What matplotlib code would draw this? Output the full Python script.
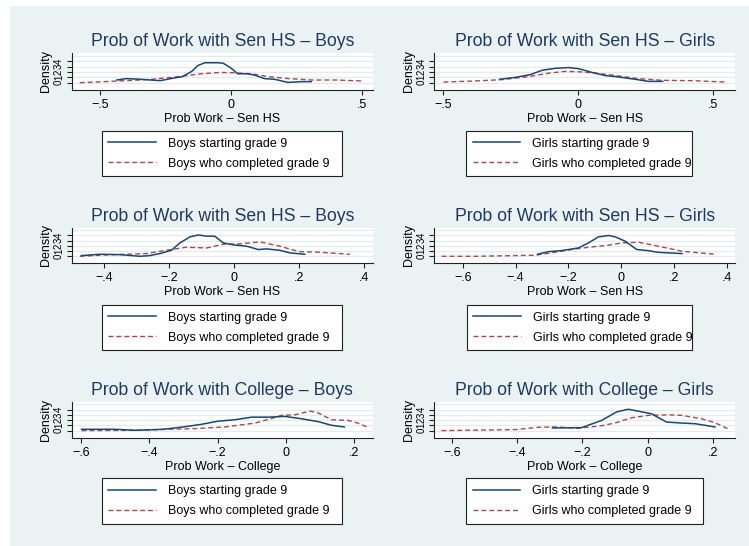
import matplotlib
matplotlib.use("Agg")
import matplotlib.pyplot as plt
from matplotlib.patches import Rectangle
from matplotlib.lines import Line2D

plt.rcParams['font.family'] = ['Liberation Sans', 'DejaVu Sans']

W, H = 749, 546

# ---- data (kernel density estimates) ----
# top row: Prob of Work with Sen HS
boys1_start_x = [-0.436, -0.40, -0.345, -0.27, -0.23, -0.185, -0.15, -0.127, -0.10, -0.05,
                 -0.03, 0.0, 0.025, 0.064, 0.09, 0.127, 0.166, 0.217, 0.27, 0.306]
boys1_start_y = [0.5, 0.76, 0.63, 0.38, 0.76, 1.14, 2.1, 3.17, 3.7, 3.7,
                 3.6, 2.7, 1.65, 1.65, 1.4, 0.76, 0.63, 0.06, 0.2, 0.2]
boys1_done_x = [-0.577, -0.436, -0.31, -0.205, -0.115, -0.04, 0.013, 0.077, 0.14, 0.218,
                0.31, 0.40, 0.506]
boys1_done_y = [0.0, 0.3, 0.6, 1.1, 1.65, 1.9, 1.84, 1.65, 1.14, 0.76,
                0.5, 0.5, 0.3]

girls1_start_x = [-0.29, -0.23, -0.176, -0.133, -0.084, -0.034, 0.002, 0.052, 0.10, 0.138,
                  0.212, 0.26, 0.313]
girls1_start_y = [0.63, 1.0, 1.5, 2.3, 2.67, 2.8, 2.6, 1.9, 1.33, 1.14,
                  0.63, 0.25, 0.25]
girls1_done_x = [-0.497, -0.38, -0.28, -0.18, -0.108, -0.047, 0.002, 0.064, 0.138, 0.224,
                 0.31, 0.42, 0.543]
girls1_done_y = [0.13, 0.32, 0.57, 1.14, 1.78, 2.1, 2.03, 1.78, 1.33, 0.76,
                 0.44, 0.38, 0.13]

# middle row: Prob of Work with Sen HS
boys2_start_x = [-0.47, -0.413, -0.352, -0.29, -0.26, -0.229, -0.193, -0.167, -0.136, -0.11,
                 -0.085, -0.06, -0.034, -0.003, 0.038, 0.074, 0.10, 0.14, 0.171, 0.217]
boys2_start_y = [0.13, 0.39, 0.32, 0.0, 0.13, 0.52, 1.16, 2.58, 3.74, 4.1,
                 3.87, 3.87, 2.58, 2.2, 1.94, 1.3, 1.42, 1.16, 0.65, 0.39]
boys2_done_x = [-0.475, -0.393, -0.27, -0.208, -0.147, -0.085, -0.034, 0.017, 0.079, 0.14,
                0.20, 0.264, 0.356]
boys2_done_y = [0.0, 0.26, 0.52, 1.16, 1.74, 1.6, 2.32, 2.39, 2.77, 1.94,
                0.9, 0.77, 0.39]

girls2_start_x = [-0.317, -0.275, -0.225, -0.162, -0.124, -0.086, -0.048, -0.023, 0.015, 0.059,
                  0.10, 0.14, 0.23]
girls2_start_y = [0.39, 0.9, 1.1, 1.6, 2.58, 3.74, 4.0, 3.74, 2.9, 1.3,
                  1.1, 0.77, 0.52]
girls2_done_x = [-0.68, -0.553, -0.326, -0.25, -0.174, -0.111, -0.048, 0.003, 0.066, 0.141,
                 0.23, 0.356]
girls2_done_y = [0.0, 0.0, 0.2, 0.77, 1.42, 1.8, 2.13, 2.58, 2.7, 1.94,
                 0.97, 0.39]

# bottom row: Prob of Work with College
boys3_start_x = [-0.598, -0.50, -0.44, -0.36, -0.30, -0.247, -0.198, -0.15, -0.10, -0.052,
                 -0.003, 0.046, 0.095, 0.134, 0.171]
boys3_start_y = [0.25, 0.25, 0.06, 0.25, 0.7, 1.2, 1.8, 2.06, 2.56, 2.56,
                 2.7, 2.25, 1.7, 1.0, 0.7]
boys3_done_x = [-0.598, -0.44, -0.344, -0.266, -0.178, -0.09, -0.042, -0.013, 0.026, 0.07,
                0.09, 0.134, 0.182, 0.21, 0.237]
boys3_done_y = [0.0, 0.06, 0.25, 0.38, 0.7, 1.44, 2.3, 2.9, 3.0, 3.7,
                3.5, 2.06, 1.94, 1.44, 0.7]

girls3_start_x = [-0.292, -0.203, -0.141, -0.095, -0.059, -0.029, 0.012, 0.058, 0.105, 0.146,
                  0.207]
girls3_start_y = [0.5, 0.56, 1.94, 3.56, 4.06, 3.7, 3.2, 1.63, 1.44, 1.31,
                  0.7]
girls3_done_x = [-0.633, -0.407, -0.336, -0.285, -0.213, -0.141, -0.10, -0.049, 0.002, 0.064,
                 0.105, 0.166, 0.207, 0.246]
girls3_done_y = [0.0, 0.19, 0.63, 0.7, 0.44, 0.94, 1.44, 2.44, 2.9, 3.0,
                 2.9, 2.25, 1.5, 0.38]

titles = ["Prob of Work with Sen HS \u2013 Boys", "Prob of Work with Sen HS \u2013 Girls",
          "Prob of Work with Sen HS \u2013 Boys", "Prob of Work with Sen HS \u2013 Girls",
          "Prob of Work with College \u2013 Boys", "Prob of Work with College \u2013 Girls"]
xlabels = ["Prob Work \u2013 Sen HS", "Prob Work \u2013 Sen HS",
           "Prob Work \u2013 Sen HS", "Prob Work \u2013 Sen HS",
           "Prob Work \u2013 College", "Prob Work \u2013 College"]
groups = ["Boys", "Girls", "Boys", "Girls", "Boys", "Girls"]
xticks = [[-0.5, 0, 0.5], [-0.5, 0, 0.5],
          [-0.4, -0.2, 0, 0.2, 0.4], [-0.6, -0.4, -0.2, 0, 0.2, 0.4],
          [-0.6, -0.4, -0.2, 0, 0.2], [-0.6, -0.4, -0.2, 0, 0.2]]
yticks = [0, 1, 2, 3, 4]

series = [(boys1_start_x, boys1_start_y, boys1_done_x, boys1_done_y),
          (girls1_start_x, girls1_start_y, girls1_done_x, girls1_done_y),
          (boys2_start_x, boys2_start_y, boys2_done_x, boys2_done_y),
          (girls2_start_x, girls2_start_y, girls2_done_x, girls2_done_y),
          (boys3_start_x, boys3_start_y, boys3_done_x, boys3_done_y),
          (girls3_start_x, girls3_start_y, girls3_done_x, girls3_done_y)]

# ---- layout (pixels in the 749x546 image) ----
xlims = [(-0.608, 0.540), (-0.531, 0.580), (-0.500, 0.426),
         (-0.708, 0.431), (-0.627, 0.254), (-0.655, 0.2685)]
cols = [(71.7, 372.7), (434.3, 735.0)]
rows = [(53.0, 90.0), (227.7, 263.3), (401.7, 437.7)]
legend_boxes = [(101.7, 341.7, 131.0), (466.0, 692.0, 131.0),
                (101.7, 341.7, 305.0), (466.7, 692.0, 305.0),
                (101.7, 341.7, 478.3), (466.0, 703.3, 478.3)]

navy = "#1a476f"
maroon = "#a9474f"
title_col = "#1f3a60"
bg = "#eaf2f3"

fig = plt.figure(figsize=(W / 100, H / 100), dpi=100, facecolor="white")
fig.add_artist(Rectangle((10 / W, 0), 1 - 10 / W, 1 - 6 / H, transform=fig.transFigure,
                         facecolor=bg, edgecolor="none", zorder=-10))

for i in range(6):
    c0, c1 = cols[i % 2]
    r0, r1 = rows[i // 2]
    ax = fig.add_axes([c0 / W, 1 - r1 / H, (c1 - c0) / W, (r1 - r0) / H])
    ax.set_facecolor("white")
    sx, sy, dx, dy = series[i]
    for g in range(6):
        ax.axhline(g, color="#e3ebed", lw=0.9, zorder=0)
    ax.plot(sx, sy, color=navy, lw=1.1, solid_joinstyle="round", zorder=3)
    ax.plot(dx, dy, color=maroon, lw=1.0, linestyle=(0, (3.5, 2.2)), zorder=2)
    ax.set_xlim(*xlims[i])
    ax.set_ylim(-1.35, 5.5)
    labs = [("\u2212" + f"{abs(t):.1f}"[1:]) if t < 0 else ("0" if t == 0 else f"{t:.1f}"[1:])
            for t in xticks[i]]
    ax.set_xticks(xticks[i], labs)
    ax.set_yticks(yticks, [str(v) for v in yticks])
    for s in ["top", "right"]:
        ax.spines[s].set_visible(False)
    for s in ["left", "bottom"]:
        ax.spines[s].set_color("#222222")
        ax.spines[s].set_linewidth(0.8)
    ax.tick_params(axis="both", direction="out", length=3.5, width=0.8, color="#222222",
                   labelsize=9, pad=3)
    ax.tick_params(axis="y", labelrotation=90, labelsize=7, pad=2)
    for lab in ax.get_yticklabels():
        lab.set_va("center")
    ax.set_xlabel(xlabels[i], fontsize=9, labelpad=1.5)
    ax.set_ylabel("Density", fontsize=9, labelpad=1.5)
    ax.set_title(titles[i], fontsize=12.7, color=title_col, pad=5)

    lx0, lx1, ly0 = legend_boxes[i]
    handles = [Line2D([], [], color=navy, lw=1.1),
               Line2D([], [], color=maroon, lw=1.0, linestyle=(0, (3.5, 2.2)))]
    labels = [f"{groups[i]} starting grade 9", f"{groups[i]} who completed grade 9"]
    leg = ax.legend(handles, labels, loc="upper left",
                    bbox_to_anchor=(lx0 / W, 1 - ly0 / H, (lx1 - lx0) / W, 0),
                    bbox_transform=fig.transFigure, mode="expand", borderaxespad=0,
                    fontsize=9, handlelength=3.8, handletextpad=0.95, borderpad=0.53,
                    labelspacing=0.64, fancybox=False, framealpha=1, edgecolor="#222222")
    leg.get_frame().set_linewidth(0.8)

fig.savefig("out.png", dpi=100, facecolor="white")
